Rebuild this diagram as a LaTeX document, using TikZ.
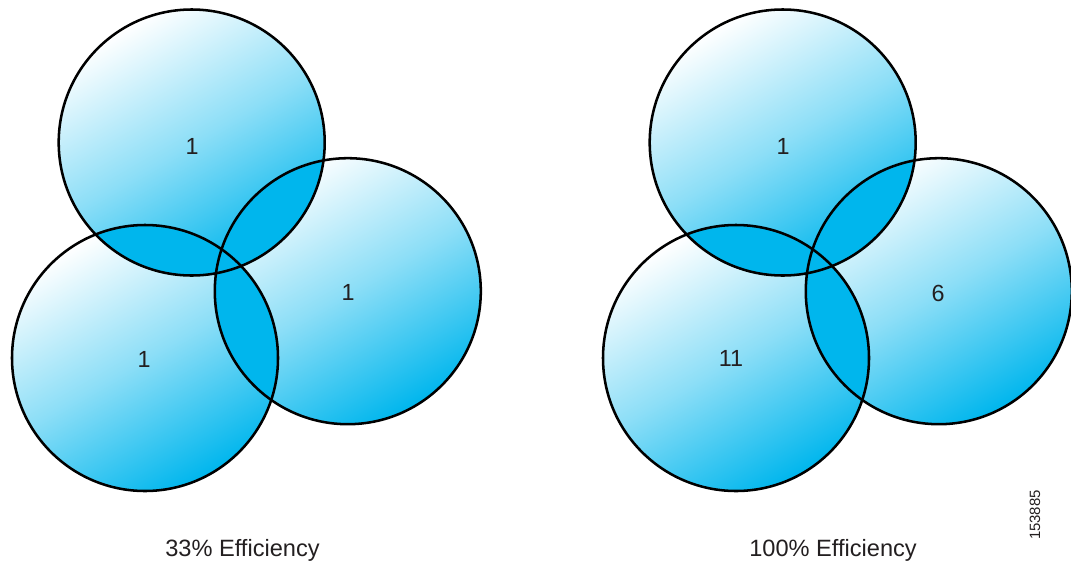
\documentclass[tikz,border=0pt]{standalone}
\usepackage{fontspec}
\setmainfont{Liberation Sans}
\definecolor{vcyan}{RGB}{0,182,237}
\definecolor{ink}{RGB}{35,31,32}
\begin{document}
\begin{tikzpicture}[x=0.75pt,y=-0.75pt,
  disc/.style={top color=white,bottom color=vcyan,middle color=vcyan!45!white,shading angle=30},
  rim/.style={draw=black,line width=1.9pt},
  num/.style={font=\fontsize{17.5}{20}\selectfont,text=ink,inner sep=0pt},
  caption/.style={font=\fontsize{17.7}{20}\selectfont,text=ink,inner sep=0pt,anchor=base}]
\useasboundingbox (0,0) rectangle (1071,561);
% centres
\coordinate (LA) at (191.7,142.5);
\coordinate (LB) at (145,358);
\coordinate (LC) at (347.8,291.2);
\coordinate (RA) at (782.7,142.5);
\coordinate (RB) at (736,358);
\coordinate (RC) at (938.8,291.2);
% fills
\foreach \g in {L,R}{
  \shade[disc] (\g C) circle (99.75pt);
  \shade[disc] (\g B) circle (99.75pt);
  \shade[disc] (\g A) circle (99.75pt);
  % overlaps in solid cyan
  \begin{scope}
    \clip (\g A) circle (99.75pt);
    \fill[vcyan] (\g B) circle (99.75pt);
    \fill[vcyan] (\g C) circle (99.75pt);
  \end{scope}
  \begin{scope}
    \clip (\g B) circle (99.75pt);
    \fill[vcyan] (\g C) circle (99.75pt);
  \end{scope}
}
% outlines
\foreach \g in {L,R}{
  \draw[rim] (\g A) circle (99.75pt);
  \draw[rim] (\g B) circle (99.75pt);
  \draw[rim] (\g C) circle (99.75pt);
}
% labels
\node[num] (lA) at (192,146) {1};
\node[num] (lB) at (144,359.5) {1};
\node[num] (lC) at (348,292.5) {1};
\node[num] (rA) at (783,146) {1};
\node[num] (rB) at (731,358.7) {11};
\node[num] (rC) at (938,293.4) {6};
\node[caption] (capL) at (242.5,556) {33\% Efficiency};
\node[caption] (capR) at (833,556) {100\% Efficiency};
\node[font=\fontsize{11.2}{12}\selectfont,text=ink,rotate=90,inner sep=0pt] (id) at (1035,515) {153885};
\end{tikzpicture}
\end{document}
